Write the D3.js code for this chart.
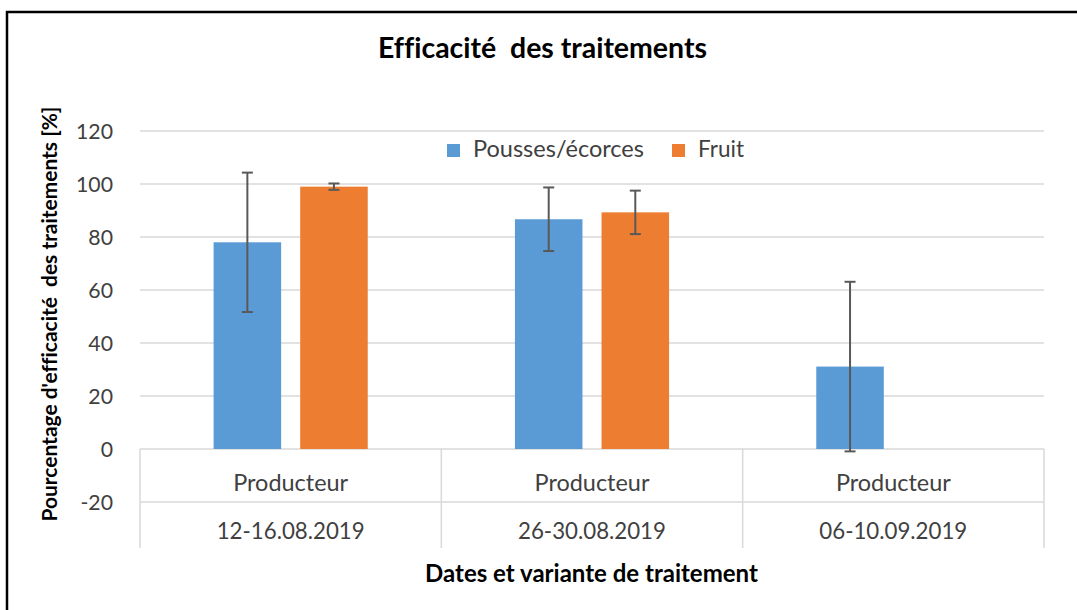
<!DOCTYPE html>
<html>
<head>
<meta charset="utf-8">
<script src="https://cdn.jsdelivr.net/npm/d3@7"></script>
<style>
  body { margin: 0; background: #fff; }
  text { font-family: Lato, "Open Sans", sans-serif; font-variant-ligatures: none; }
</style>
</head>
<body>
<div id="chart"></div>
<script>
// data
const dates = ["12-16.08.2019", "26-30.08.2019", "06-10.09.2019"];
const variants = ["Producteur", "Producteur", "Producteur"];
const series = ["Pousses/écorces", "Fruit"];
const pousses = [78, 86.7, 31.1];
const poussesErr = [26.3, 12, 32];
const fruit = [99, 89.3, null];
const fruitErr = [1.2, 8.2, null];
const yTicks = [-20, 0, 20, 40, 60, 80, 100, 120];
const colors = ["#5B9BD5", "#ED7D31"];

const W = 1077, H = 610;
const plot = { left: 140, right: 1044, top: 131, bottom: 502 };

const svg = d3.select("#chart").append("svg")
    .attr("width", W)
    .attr("height", H);

// scale a text so it spans a given width
function fit(sel, w) {
    const len = sel.node().getComputedTextLength();
    const fs = parseFloat(sel.attr("font-size"));
    return fs * w / len;
}

// outer frame (cropped at right and bottom)
svg.append("path")
    .attr("d", "M7,640 V12 H1100")
    .attr("fill", "none")
    .attr("stroke", "#000")
    .attr("stroke-width", 2.5);

const y = d3.scaleLinear()
    .domain([-20, 120])
    .range([plot.bottom, plot.top]);

const x = d3.scaleBand()
    .domain(dates)
    .range([plot.left, plot.right]);

const xInner = d3.scaleBand()
    .domain(series)
    .range([0, x.bandwidth()])
    .paddingInner(0.22)
    .paddingOuter(0.85);

// gridlines
svg.append("g").selectAll("line")
    .data(yTicks)
    .enter().append("line")
    .attr("x1", plot.left)
    .attr("x2", plot.right)
    .attr("y1", d => y(d))
    .attr("y2", d => y(d))
    .attr("stroke", "#D9D9D9")
    .attr("stroke-width", 1.5);

// category separators under the zero line
const bounds = dates.map(d => x(d)).concat([plot.right]);
svg.append("g").selectAll("line")
    .data(bounds)
    .enter().append("line")
    .attr("x1", d => d)
    .attr("x2", d => d)
    .attr("y1", y(0))
    .attr("y2", 548)
    .attr("stroke", "#D9D9D9")
    .attr("stroke-width", 1.5);

// bars
const barData = [];
dates.forEach((d, i) => {
    barData.push({ date: d, s: series[0], v: pousses[i], e: poussesErr[i], c: colors[0] });
    barData.push({ date: d, s: series[1], v: fruit[i], e: fruitErr[i], c: colors[1] });
});
const shown = barData.filter(b => b.v != null);

svg.append("g").selectAll("rect")
    .data(shown)
    .enter().append("rect")
    .attr("x", b => x(b.date) + xInner(b.s))
    .attr("width", xInner.bandwidth())
    .attr("y", b => y(b.v))
    .attr("height", b => y(0) - y(b.v))
    .attr("fill", b => b.c);

// error bars
const eb = svg.append("g")
    .attr("stroke", "#595959")
    .attr("stroke-width", 2);
shown.forEach(b => {
    const cx = x(b.date) + xInner(b.s) + xInner.bandwidth() / 2;
    eb.append("line").attr("x1", cx).attr("x2", cx)
        .attr("y1", y(b.v - b.e)).attr("y2", y(b.v + b.e));
    [b.v - b.e, b.v + b.e].forEach(v => {
        eb.append("line").attr("x1", cx - 5.5).attr("x2", cx + 5.5)
            .attr("y1", y(v)).attr("y2", y(v));
    });
});

// y tick labels
const tl = svg.append("g").selectAll("text")
    .data(yTicks)
    .enter().append("text")
    .attr("x", 113)
    .attr("y", d => y(d))
    .attr("dy", "0.36em")
    .attr("text-anchor", "end")
    .attr("font-size", 20)
    .attr("fill", "#404040")
    .text(d => d);
tl.attr("font-size", fit(tl.filter(d => d === 120), 37));

// two-level category labels
const vl = svg.append("g").selectAll("text")
    .data(variants)
    .enter().append("text")
    .attr("x", (d, i) => x(dates[i]) + x.bandwidth() / 2)
    .attr("y", 491)
    .attr("text-anchor", "middle")
    .attr("font-size", 20)
    .attr("fill", "#404040")
    .text(d => d);
vl.attr("font-size", fit(vl.filter((d, i) => i === 0), 115));

const dl = svg.append("g").selectAll("text")
    .data(dates)
    .enter().append("text")
    .attr("x", d => x(d) + x.bandwidth() / 2)
    .attr("y", 539)
    .attr("text-anchor", "middle")
    .attr("font-size", 20)
    .attr("fill", "#404040")
    .text(d => d);
dl.attr("font-size", fit(dl.filter((d, i) => i === 0), 148));

// legend
const legX = [447, 672];
const legW = [171, 46];
series.forEach((s, i) => {
    svg.append("rect")
        .attr("x", legX[i]).attr("y", 144)
        .attr("width", 13).attr("height", 13)
        .attr("fill", colors[i]);
    const t = svg.append("text")
        .attr("x", legX[i] + 26).attr("y", 157)
        .attr("font-size", 20)
        .attr("fill", "#404040")
        .text(s);
    t.attr("font-size", fit(t, legW[i]));
});

// titles
const title = svg.append("text")
    .attr("x", 542.5).attr("y", 58)
    .attr("text-anchor", "middle")
    .attr("font-size", 26)
    .attr("font-weight", "bold")
    .attr("fill", "#000")
    .style("white-space", "pre")
    .text("Efficacité  des traitements");
title.attr("font-size", fit(title, 329));

const yTitle = svg.append("text")
    .attr("transform", "translate(57,314) rotate(-90)")
    .attr("text-anchor", "middle")
    .attr("font-size", 18)
    .attr("font-weight", "bold")
    .attr("fill", "#000")
    .style("white-space", "pre")
    .text("Pourcentage d'efficacité  des traitements [%]");
yTitle.attr("font-size", fit(yTitle, 415));

const xTitle = svg.append("text")
    .attr("x", 591.5).attr("y", 582)
    .attr("text-anchor", "middle")
    .attr("font-size", 20)
    .attr("font-weight", "bold")
    .attr("fill", "#000")
    .text("Dates et variante de traitement");
xTitle.attr("font-size", fit(xTitle, 333));
</script>
</body>
</html>
